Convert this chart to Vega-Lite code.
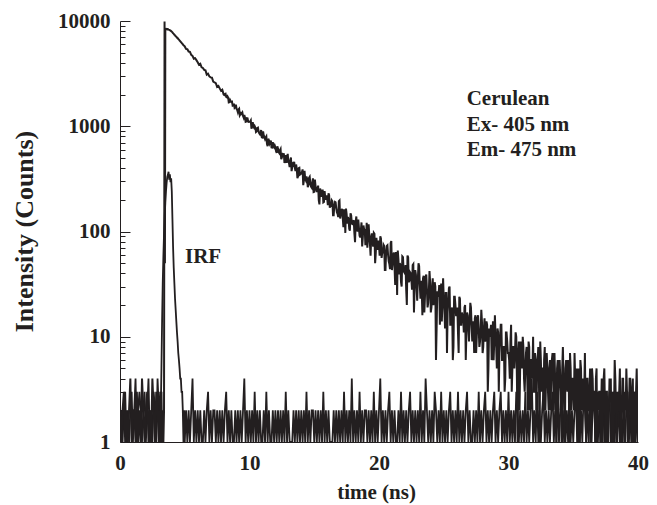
{
"$schema":"https://vega.github.io/schema/vega-lite/v6.json",
"width":518,"height":421,
"autosize":{"type":"none"},
"padding":{"left":120,"top":21,"right":19,"bottom":63},
"background":"white",
"config":{"view":{"stroke":null},"font":"Liberation Serif","axis":{"grid":false}},
"datasets":{
"decay":[{"t":0.0,"c":2},{"t":0.1,"c":1},{"t":0.2,"c":2},{"t":0.3,"c":3},{"t":0.4,"c":1},{"t":0.5,"c":2},{"t":0.6,"c":1},{"t":0.7,"c":2},{"t":0.8,"c":4},{"t":0.9,"c":1},{"t":1.0,"c":2},{"t":1.1,"c":2},{"t":1.2,"c":1},{"t":1.3,"c":3},{"t":1.4,"c":1},{"t":1.5,"c":2},{"t":1.6,"c":1},{"t":1.7,"c":4},{"t":1.8,"c":2},{"t":1.9,"c":1},{"t":2.0,"c":2},{"t":2.1,"c":3},{"t":2.2,"c":1},{"t":2.3,"c":2},{"t":2.4,"c":1},{"t":2.5,"c":4},{"t":2.6,"c":2},{"t":2.7,"c":1},{"t":2.8,"c":3},{"t":2.9,"c":2},{"t":3.0,"c":1},{"t":3.05,"c":2},{"t":3.1,"c":1},{"t":3.15,"c":2},{"t":3.2,"c":3},{"t":3.25,"c":1},{"t":3.3,"c":2},{"t":3.35,"c":1},{"t":3.4,"c":2},{"t":3.44,"c":9900},{"t":3.47,"c":50},{"t":3.5,"c":8450},{"t":3.55,"c":8380},{"t":3.6,"c":8420},{"t":3.65,"c":8330},{"t":3.7,"c":8360},{"t":3.75,"c":8290},{"t":3.8,"c":8240},{"t":3.85,"c":8180},{"t":3.9,"c":8090},{"t":3.95,"c":8010},{"t":4.0,"c":7920},{"t":4.05,"c":7790},{"t":4.1,"c":7640},{"t":4.15,"c":7550},{"t":4.2,"c":7400},{"t":4.25,"c":7310},{"t":4.3,"c":7170},{"t":4.35,"c":7090},{"t":4.4,"c":6950},{"t":4.45,"c":6890},{"t":4.5,"c":6740},{"t":4.55,"c":6660},{"t":4.6,"c":6510},{"t":4.65,"c":6440},{"t":4.7,"c":6300},{"t":4.75,"c":6230},{"t":4.8,"c":6090},{"t":4.85,"c":6020},{"t":4.9,"c":5880},{"t":4.95,"c":5820},
{"t":5.0,"c":5733},{"t":5.1,"c":5431},{"t":5.2,"c":5394},{"t":5.3,"c":5129},{"t":5.4,"c":5092},{"t":5.5,"c":4758},{"t":5.6,"c":4667},{"t":5.7,"c":4384},{"t":5.8,"c":4428},{"t":5.9,"c":4249},
{"t":6.0,"c":4057},{"t":6.1,"c":3846},{"t":6.2,"c":3926},{"t":6.3,"c":3635},{"t":6.4,"c":3578},{"t":6.5,"c":3430},{"t":6.6,"c":3397},{"t":6.7,"c":3092},{"t":6.8,"c":3154},{"t":6.9,"c":2974},
{"t":7.0,"c":2912},{"t":7.1,"c":2894},{"t":7.2,"c":2659},{"t":7.3,"c":2606},{"t":7.4,"c":2569},{"t":7.5,"c":2370},{"t":7.6,"c":2417},{"t":7.7,"c":2289},{"t":7.8,"c":2175},{"t":7.9,"c":2227},
{"t":8.0,"c":2008},{"t":8.1,"c":2025},{"t":8.2,"c":1901},{"t":8.3,"c":1930},{"t":8.4,"c":1684},{"t":8.5,"c":1776},{"t":8.6,"c":1702},{"t":8.7,"c":1567},{"t":8.8,"c":1644},{"t":8.9,"c":1515},
{"t":9.0,"c":1464},{"t":9.1,"c":1361},{"t":9.2,"c":1466},{"t":9.3,"c":1300},{"t":9.4,"c":1311},{"t":9.5,"c":1253},{"t":9.6,"c":1277},{"t":9.7,"c":1103},{"t":9.8,"c":1193},{"t":9.9,"c":1104},
{"t":10.0,"c":1101},{"t":10.1,"c":1136},{"t":10.2,"c":989},{"t":10.3,"c":990},{"t":10.4,"c":1005},{"t":10.5,"c":882},{"t":10.6,"c":962},{"t":10.7,"c":896},{"t":10.8,"c":839},{"t":10.9,"c":921},
{"t":11.0,"c":780},{"t":11.1,"c":819},{"t":11.2,"c":755},{"t":11.3,"c":801},{"t":11.4,"c":647},{"t":11.5,"c":737},{"t":11.6,"c":706},{"t":11.7,"c":629},{"t":11.8,"c":705},{"t":11.9,"c":631},
{"t":12.0,"c":630},{"t":12.1,"c":558},{"t":12.2,"c":615},{"t":12.3,"c":555},{"t":12.4,"c":607},{"t":12.5,"c":506},{"t":12.6,"c":526},{"t":12.7,"c":447},{"t":12.8,"c":531},{"t":12.9,"c":501},
{"t":13.0,"c":461},{"t":13.1,"c":409},{"t":13.2,"c":505},{"t":13.3,"c":408},{"t":13.4,"c":429},{"t":13.5,"c":403},{"t":13.6,"c":433},{"t":13.7,"c":321},{"t":13.8,"c":399},{"t":13.9,"c":347},
{"t":14.0,"c":358},{"t":14.1,"c":389},{"t":14.2,"c":306},{"t":14.3,"c":316},{"t":14.4,"c":333},{"t":14.5,"c":264},{"t":14.6,"c":323},{"t":14.7,"c":289},{"t":14.8,"c":261},{"t":14.9,"c":320},
{"t":15.0,"c":238},{"t":15.1,"c":270},{"t":15.2,"c":237},{"t":15.3,"c":273},{"t":15.4,"c":181},{"t":15.5,"c":244},{"t":15.6,"c":230},{"t":15.7,"c":189},{"t":15.8,"c":242},{"t":15.9,"c":201},
{"t":16.0,"c":205},{"t":16.1,"c":231},{"t":16.2,"c":168},{"t":16.3,"c":178},{"t":16.4,"c":194},{"t":16.5,"c":143},{"t":16.6,"c":191},{"t":16.7,"c":166},{"t":16.8,"c":147},{"t":16.9,"c":194},
{"t":17.0,"c":133},{"t":17.1,"c":159},{"t":17.2,"c":135},{"t":17.3,"c":163},{"t":17.4,"c":97},{"t":17.5,"c":146},{"t":17.6,"c":137},{"t":17.7,"c":106},{"t":17.8,"c":149},{"t":17.9,"c":119},
{"t":18.0,"c":124},{"t":18.1,"c":96},{"t":18.2,"c":125},{"t":18.3,"c":104},{"t":18.4,"c":130},{"t":18.5,"c":91},{"t":18.6,"c":103},{"t":18.7,"c":72},{"t":18.8,"c":114},{"t":18.9,"c":104},
{"t":19.0,"c":89},{"t":19.1,"c":70},{"t":19.2,"c":117},{"t":19.3,"c":76},{"t":19.4,"c":89},{"t":19.5,"c":80},{"t":19.6,"c":97},{"t":19.7,"c":50},{"t":19.8,"c":87},{"t":19.9,"c":67},
{"t":20.0,"c":74},{"t":20.1,"c":90},{"t":20.2,"c":56},{"t":20.3,"c":63},{"t":20.4,"c":73},{"t":20.5,"c":43},{"t":20.6,"c":73},{"t":20.7,"c":60},{"t":20.8,"c":49},{"t":20.9,"c":78},
{"t":21.0,"c":43},{"t":21.1,"c":60},{"t":21.2,"c":46},{"t":21.3,"c":64},{"t":21.4,"c":25},{"t":21.5,"c":54},{"t":21.6,"c":50},{"t":21.7,"c":33},{"t":21.8,"c":58},{"t":21.9,"c":42},
{"t":22.0,"c":40},{"t":22.1,"c":28},{"t":22.2,"c":59},{"t":22.3,"c":33},{"t":22.4,"c":41},{"t":22.5,"c":35},{"t":22.6,"c":48},{"t":22.7,"c":17},{"t":22.8,"c":43},{"t":22.9,"c":30},
{"t":23.0,"c":35},{"t":23.1,"c":47},{"t":23.2,"c":23},{"t":23.3,"c":28},{"t":23.4,"c":36},{"t":23.5,"c":17},{"t":23.6,"c":37},{"t":23.7,"c":28},{"t":23.8,"c":21},{"t":23.9,"c":42},
{"t":24.0,"c":17},{"t":24.1,"c":29},{"t":24.2,"c":20},{"t":24.3,"c":33},{"t":24.4,"c":6},{"t":24.5,"c":27},{"t":24.6,"c":25},{"t":24.7,"c":13},{"t":24.8,"c":32},{"t":24.9,"c":21},
{"t":25.0,"c":23},{"t":25.1,"c":12},{"t":25.2,"c":26},{"t":25.3,"c":17},{"t":25.4,"c":29},{"t":25.5,"c":13},{"t":25.6,"c":18},{"t":25.7,"c":6},{"t":25.8,"c":24},{"t":25.9,"c":20},
{"t":26.0,"c":16},{"t":26.1,"c":11},{"t":26.2,"c":24},{"t":26.3,"c":13},{"t":26.4,"c":17},{"t":26.5,"c":15},{"t":26.6,"c":19},{"t":26.7,"c":6},{"t":26.8,"c":17},{"t":26.9,"c":12},
{"t":27.0,"c":14},{"t":27.1,"c":19},{"t":27.2,"c":9},{"t":27.3,"c":12},{"t":27.4,"c":15},{"t":27.5,"c":7},{"t":27.6,"c":15},{"t":27.7,"c":12},{"t":27.8,"c":9},{"t":27.9,"c":18},
{"t":28.0,"c":7},{"t":28.1,"c":12},{"t":28.2,"c":9},{"t":28.3,"c":14},{"t":28.4,"c":3},{"t":28.5,"c":12},{"t":28.6,"c":11},{"t":28.7,"c":6},{"t":28.8,"c":14},{"t":28.9,"c":9},
{"t":29.0,"c":10},{"t":29.1,"c":5},{"t":29.2,"c":11},{"t":29.3,"c":7},{"t":29.4,"c":13},{"t":29.5,"c":6},{"t":29.6,"c":8},{"t":29.7,"c":3},{"t":29.8,"c":11},{"t":29.9,"c":9},
{"t":30.0,"c":7},{"t":30.1,"c":4},{"t":30.2,"c":13},{"t":30.3,"c":5},{"t":30.4,"c":8},{"t":30.5,"c":7},{"t":30.6,"c":10},{"t":30.7,"c":1},{"t":30.8,"c":9},{"t":30.9,"c":5},
{"t":31.0,"c":7},{"t":31.1,"c":10},{"t":31.2,"c":4},{"t":31.3,"c":5},{"t":31.4,"c":8},{"t":31.5,"c":2},{"t":31.6,"c":8},{"t":31.7,"c":6},{"t":31.8,"c":4},{"t":31.9,"c":10},
{"t":32.0,"c":3},{"t":32.1,"c":6},{"t":32.2,"c":4},{"t":32.3,"c":8},{"t":32.4,"c":1},{"t":32.5,"c":6},{"t":32.6,"c":5},{"t":32.7,"c":2},{"t":32.8,"c":8},{"t":32.9,"c":4},
{"t":33.0,"c":5},{"t":33.1,"c":2},{"t":33.2,"c":6},{"t":33.3,"c":4},{"t":33.4,"c":7},{"t":33.5,"c":2},{"t":33.6,"c":4},{"t":33.7,"c":1},{"t":33.8,"c":6},{"t":33.9,"c":5},
{"t":34.0,"c":4},{"t":34.1,"c":1},{"t":34.2,"c":8},{"t":34.3,"c":2},{"t":34.4,"c":5},{"t":34.5,"c":4},{"t":34.6,"c":6},{"t":34.7,"c":1},{"t":34.8,"c":5},{"t":34.9,"c":3},
{"t":35.0,"c":4},{"t":35.1,"c":7},{"t":35.2,"c":2},{"t":35.3,"c":3},{"t":35.4,"c":5},{"t":35.5,"c":1},{"t":35.6,"c":5},{"t":35.7,"c":3},{"t":35.8,"c":2},{"t":35.9,"c":7},
{"t":36.0,"c":1},{"t":36.1,"c":4},{"t":36.2,"c":2},{"t":36.3,"c":5},{"t":36.4,"c":1},{"t":36.5,"c":4},{"t":36.6,"c":3},{"t":36.7,"c":1},{"t":36.8,"c":5},{"t":36.9,"c":3},
{"t":37.0,"c":3},{"t":37.1,"c":1},{"t":37.2,"c":4},{"t":37.3,"c":2},{"t":37.4,"c":5},{"t":37.5,"c":1},{"t":37.6,"c":3},{"t":37.7,"c":1},{"t":37.8,"c":4},{"t":37.9,"c":4},
{"t":38.0,"c":2},{"t":38.1,"c":1},{"t":38.2,"c":6},{"t":38.3,"c":2},{"t":38.4,"c":3},{"t":38.5,"c":2},{"t":38.6,"c":5},{"t":38.7,"c":1},{"t":38.8,"c":4},{"t":38.9,"c":2},
{"t":39.0,"c":3},{"t":39.1,"c":5},{"t":39.2,"c":1},{"t":39.3,"c":2},{"t":39.4,"c":4},{"t":39.5,"c":1},{"t":39.6,"c":4},{"t":39.7,"c":3},{"t":39.8,"c":1},{"t":39.9,"c":5},{"t":40.0,"c":1},
{"t":8.05,"c":1984},{"t":8.15,"c":2039},{"t":8.25,"c":1884},{"t":8.35,"c":1878},{"t":8.45,"c":1690},{"t":8.55,"c":1727},{"t":8.65,"c":1713},{"t":8.75,"c":1575},{"t":8.85,"c":1494},{"t":8.95,"c":1601},
{"t":9.05,"c":1431},{"t":9.15,"c":1441},{"t":9.25,"c":1270},{"t":9.35,"c":1334},{"t":9.45,"c":1345},{"t":9.55,"c":1206},{"t":9.65,"c":1210},{"t":9.75,"c":1110},{"t":9.85,"c":1189},{"t":9.95,"c":1100},
{"t":10.05,"c":1108},{"t":10.15,"c":951},{"t":10.25,"c":1095},{"t":10.35,"c":968},{"t":10.45,"c":974},{"t":10.55,"c":894},{"t":10.65,"c":970},{"t":10.75,"c":855},{"t":10.85,"c":883},{"t":10.95,"c":784},
{"t":11.05,"c":892},{"t":11.15,"c":785},{"t":11.25,"c":782},{"t":11.35,"c":679},{"t":11.45,"c":761},{"t":11.55,"c":683},{"t":11.65,"c":731},{"t":11.75,"c":627},{"t":11.85,"c":647},{"t":11.95,"c":656},
{"t":12.05,"c":578},{"t":12.15,"c":645},{"t":12.25,"c":567},{"t":12.35,"c":590},{"t":12.45,"c":486},{"t":12.55,"c":537},{"t":12.65,"c":553},{"t":12.75,"c":482},{"t":12.85,"c":448},{"t":12.95,"c":546},
{"t":13.05,"c":447},{"t":13.15,"c":477},{"t":13.25,"c":375},{"t":13.35,"c":438},{"t":13.45,"c":460},{"t":13.55,"c":376},{"t":13.65,"c":391},{"t":13.75,"c":334},{"t":13.85,"c":402},{"t":13.95,"c":351},
{"t":14.05,"c":367},{"t":14.15,"c":276},{"t":14.25,"c":377},{"t":14.35,"c":306},{"t":14.45,"c":318},{"t":14.55,"c":275},{"t":14.65,"c":331},{"t":14.75,"c":267},{"t":14.85,"c":292},{"t":14.95,"c":237},
{"t":15.05,"c":312},{"t":15.15,"c":252},{"t":15.25,"c":256},{"t":15.35,"c":198},{"t":15.45,"c":256},{"t":15.55,"c":213},{"t":15.65,"c":250},{"t":15.75,"c":191},{"t":15.85,"c":209},{"t":15.95,"c":220},
{"t":16.05,"c":178},{"t":16.15,"c":221},{"t":16.25,"c":180},{"t":16.35,"c":198},{"t":16.45,"c":143},{"t":16.55,"c":177},{"t":16.65,"c":189},{"t":16.75,"c":152},{"t":16.85,"c":137},{"t":16.95,"c":197},
{"t":17.05,"c":145},{"t":17.15,"c":164},{"t":17.25,"c":110},{"t":17.35,"c":149},{"t":17.45,"c":165},{"t":17.55,"c":119},{"t":17.65,"c":131},{"t":17.75,"c":102},{"t":17.85,"c":143},{"t":17.95,"c":118},
{"t":18.05,"c":128},{"t":18.15,"c":79},{"t":18.25,"c":139},{"t":18.35,"c":100},{"t":18.45,"c":109},{"t":18.55,"c":88},{"t":18.65,"c":122},{"t":18.75,"c":88},{"t":18.85,"c":105},{"t":18.95,"c":74},
{"t":19.05,"c":121},{"t":19.15,"c":88},{"t":19.25,"c":92},{"t":19.35,"c":59},{"t":19.45,"c":96},{"t":19.55,"c":72},{"t":19.65,"c":95},{"t":19.75,"c":62},{"t":19.85,"c":74},{"t":19.95,"c":82},
{"t":20.05,"c":59},{"t":20.15,"c":86},{"t":20.25,"c":63},{"t":20.35,"c":75},{"t":20.45,"c":43},{"t":20.55,"c":64},{"t":20.65,"c":74},{"t":20.75,"c":52},{"t":20.85,"c":44},{"t":20.95,"c":81},
{"t":21.05,"c":50},{"t":21.15,"c":63},{"t":21.25,"c":31},{"t":21.35,"c":56},{"t":21.45,"c":66},{"t":21.55,"c":39},{"t":21.65,"c":48},{"t":21.75,"c":30},{"t":21.85,"c":57},{"t":21.95,"c":41},
{"t":22.05,"c":48},{"t":22.15,"c":20},{"t":22.25,"c":57},{"t":22.35,"c":34},{"t":22.45,"c":40},{"t":22.55,"c":28},{"t":22.65,"c":49},{"t":22.75,"c":29},{"t":22.85,"c":39},{"t":22.95,"c":22},
{"t":23.05,"c":50},{"t":23.15,"c":31},{"t":23.25,"c":34},{"t":23.35,"c":16},{"t":23.45,"c":38},{"t":23.55,"c":24},{"t":23.65,"c":39},{"t":23.75,"c":19},{"t":23.85,"c":27},{"t":23.95,"c":33},
{"t":24.05,"c":19},{"t":24.15,"c":36},{"t":24.25,"c":23},{"t":24.35,"c":30},{"t":24.45,"c":12},{"t":24.55,"c":24},{"t":24.65,"c":31},{"t":24.75,"c":18},{"t":24.85,"c":14},{"t":24.95,"c":36},
{"t":25.05,"c":18},{"t":25.15,"c":26},{"t":25.25,"c":7},{"t":25.35,"c":22},{"t":25.45,"c":30},{"t":25.55,"c":13},{"t":25.65,"c":19},{"t":25.75,"c":8},{"t":25.85,"c":24},{"t":25.95,"c":16},
{"t":26.05,"c":19},{"t":26.15,"c":7},{"t":26.25,"c":23},{"t":26.35,"c":13},{"t":26.45,"c":16},{"t":26.55,"c":11},{"t":26.65,"c":20},{"t":26.75,"c":11},{"t":26.85,"c":16},{"t":26.95,"c":9},
{"t":27.05,"c":21},{"t":27.15,"c":13},{"t":27.25,"c":14},{"t":27.35,"c":7},{"t":27.45,"c":16},{"t":27.55,"c":10},{"t":27.65,"c":16},{"t":27.75,"c":8},{"t":27.85,"c":11},{"t":27.95,"c":14},
{"t":28.05,"c":8},{"t":28.15,"c":15},{"t":28.25,"c":10},{"t":28.35,"c":13},{"t":28.45,"c":5},{"t":28.55,"c":10},{"t":28.65,"c":13},{"t":28.75,"c":8},{"t":28.85,"c":6},{"t":28.95,"c":16},
{"t":29.05,"c":8},{"t":29.15,"c":12},{"t":29.25,"c":3},{"t":29.35,"c":10},{"t":29.45,"c":13},{"t":29.55,"c":6},{"t":29.65,"c":8},{"t":29.75,"c":4},{"t":29.85,"c":11},{"t":29.95,"c":7},
{"t":30.05,"c":6},{"t":30.15,"c":9},{"t":30.25,"c":3},{"t":30.35,"c":8},{"t":30.45,"c":5},{"t":30.55,"c":11},{"t":30.65,"c":4},{"t":30.75,"c":7},{"t":30.85,"c":2},{"t":30.95,"c":9},
{"t":31.05,"c":5},{"t":31.15,"c":8},{"t":31.25,"c":3},{"t":31.35,"c":7},{"t":31.45,"c":4},{"t":31.55,"c":9},{"t":31.65,"c":2},{"t":31.75,"c":6},{"t":31.85,"c":5},{"t":31.95,"c":3},
{"t":32.05,"c":7},{"t":32.15,"c":2},{"t":32.25,"c":6},{"t":32.35,"c":4},{"t":32.45,"c":9},{"t":32.55,"c":3},{"t":32.65,"c":5},{"t":32.75,"c":6},{"t":32.85,"c":2},{"t":32.95,"c":7},
{"t":33.05,"c":3},{"t":33.15,"c":5},{"t":33.25,"c":2},{"t":33.35,"c":6},{"t":33.45,"c":4},{"t":33.55,"c":7},{"t":33.65,"c":3},{"t":33.75,"c":5},{"t":33.85,"c":2},{"t":33.95,"c":6},
{"t":34.05,"c":3},{"t":34.15,"c":5},{"t":34.25,"c":4},{"t":34.35,"c":1},{"t":34.45,"c":6},{"t":34.55,"c":3},{"t":34.65,"c":4},{"t":34.75,"c":7},{"t":34.85,"c":2},{"t":34.95,"c":4},
{"t":35.05,"c":2},{"t":35.15,"c":4},{"t":35.25,"c":5},{"t":35.35,"c":1},{"t":35.45,"c":3},{"t":35.55,"c":6},{"t":35.65,"c":2},{"t":35.75,"c":4},{"t":35.85,"c":3},{"t":35.95,"c":2},
{"t":36.05,"c":4},{"t":36.15,"c":2},{"t":36.25,"c":3},{"t":36.35,"c":1},{"t":36.45,"c":5},{"t":36.55,"c":2},{"t":36.65,"c":3},{"t":36.75,"c":4},{"t":36.85,"c":1},{"t":36.95,"c":2},
{"t":37.05,"c":3},{"t":37.15,"c":2},{"t":37.25,"c":1},{"t":37.35,"c":4},{"t":37.45,"c":2},{"t":37.55,"c":3},{"t":37.65,"c":1},{"t":37.75,"c":2},{"t":37.85,"c":3},{"t":37.95,"c":1},
{"t":38.05,"c":3},{"t":38.15,"c":2},{"t":38.25,"c":4},{"t":38.35,"c":1},{"t":38.45,"c":2},{"t":38.55,"c":3},{"t":38.65,"c":1},{"t":38.75,"c":2},{"t":38.85,"c":4},{"t":38.95,"c":1},
{"t":39.05,"c":2},{"t":39.15,"c":3},{"t":39.25,"c":1},{"t":39.35,"c":4},{"t":39.45,"c":2},{"t":39.55,"c":3},{"t":39.65,"c":1},{"t":39.75,"c":2},{"t":39.85,"c":3},{"t":39.95,"c":2}],
"irf":[{"t":0.0,"c":1},{"t":0.1,"c":2},{"t":0.2,"c":1},{"t":0.3,"c":2},{"t":0.4,"c":3},{"t":0.5,"c":1},{"t":0.6,"c":2},{"t":0.7,"c":1},{"t":0.8,"c":2},{"t":0.9,"c":3},{"t":1.0,"c":1},{"t":1.1,"c":2},{"t":1.2,"c":4},{"t":1.3,"c":1},{"t":1.4,"c":2},{"t":1.5,"c":3},{"t":1.6,"c":2},{"t":1.7,"c":1},{"t":1.8,"c":2},{"t":1.9,"c":3},{"t":2.0,"c":1},{"t":2.1,"c":2},{"t":2.2,"c":4},{"t":2.3,"c":1},{"t":2.4,"c":2},{"t":2.5,"c":1},{"t":2.6,"c":3},{"t":2.7,"c":2},{"t":2.8,"c":1},{"t":2.9,"c":4},{"t":3.0,"c":2},
{"t":3.05,"c":1},{"t":3.1,"c":3},{"t":3.15,"c":2},{"t":3.2,"c":5},{"t":3.25,"c":14},{"t":3.3,"c":32},{"t":3.35,"c":58},{"t":3.4,"c":95},{"t":3.45,"c":140},{"t":3.5,"c":190},{"t":3.55,"c":240},{"t":3.6,"c":290},{"t":3.65,"c":330},{"t":3.7,"c":345},{"t":3.75,"c":370},{"t":3.8,"c":310},{"t":3.85,"c":350},{"t":3.9,"c":295},{"t":3.95,"c":320},{"t":4.0,"c":240},{"t":4.05,"c":130},{"t":4.1,"c":70},{"t":4.15,"c":45},{"t":4.2,"c":32},{"t":4.25,"c":23},{"t":4.3,"c":18},{"t":4.35,"c":14},{"t":4.4,"c":11},{"t":4.45,"c":9},{"t":4.5,"c":7},{"t":4.55,"c":6},{"t":4.6,"c":5},{"t":4.65,"c":4},{"t":4.7,"c":4},{"t":4.75,"c":3},{"t":4.8,"c":3},{"t":4.85,"c":2},{"t":4.9,"c":1},{"t":4.95,"c":2},{"t":5.0,"c":1},
{"t":5.1,"c":2},{"t":5.2,"c":1},{"t":5.3,"c":2},{"t":5.4,"c":1},{"t":5.5,"c":2},{"t":5.6,"c":4},{"t":5.7,"c":1},{"t":5.8,"c":2},{"t":5.9,"c":1},
{"t":6.0,"c":2},{"t":6.1,"c":1},{"t":6.2,"c":2},{"t":6.3,"c":1},{"t":6.4,"c":1},{"t":6.5,"c":2},{"t":6.6,"c":1},{"t":6.7,"c":2},{"t":6.8,"c":3},{"t":6.9,"c":1},
{"t":7.0,"c":2},{"t":7.1,"c":1},{"t":7.2,"c":2},{"t":7.3,"c":2},{"t":7.4,"c":1},{"t":7.5,"c":2},{"t":7.6,"c":1},{"t":7.7,"c":2},{"t":7.8,"c":1},{"t":7.9,"c":2},
{"t":8.0,"c":1},{"t":8.1,"c":2},{"t":8.2,"c":3},{"t":8.3,"c":1},{"t":8.4,"c":2},{"t":8.5,"c":1},{"t":8.6,"c":2},{"t":8.7,"c":1},{"t":8.8,"c":1},{"t":8.9,"c":2},
{"t":9.0,"c":1},{"t":9.1,"c":2},{"t":9.2,"c":1},{"t":9.3,"c":2},{"t":9.4,"c":1},{"t":9.5,"c":2},{"t":9.6,"c":4},{"t":9.7,"c":1},{"t":9.8,"c":2},{"t":9.9,"c":1},
{"t":10.0,"c":2},{"t":10.1,"c":1},{"t":10.2,"c":2},{"t":10.3,"c":1},{"t":10.4,"c":3},{"t":10.5,"c":1},{"t":10.6,"c":2},{"t":10.7,"c":1},{"t":10.8,"c":2},{"t":10.9,"c":1},
{"t":11.0,"c":1},{"t":11.1,"c":2},{"t":11.2,"c":1},{"t":11.3,"c":3},{"t":11.4,"c":1},{"t":11.5,"c":2},{"t":11.6,"c":1},{"t":11.7,"c":1},{"t":11.8,"c":2},{"t":11.9,"c":1},
{"t":12.0,"c":2},{"t":12.1,"c":1},{"t":12.2,"c":2},{"t":12.3,"c":1},{"t":12.4,"c":2},{"t":12.5,"c":1},{"t":12.6,"c":2},{"t":12.7,"c":1},{"t":12.8,"c":3},{"t":12.9,"c":1},
{"t":13.0,"c":2},{"t":13.1,"c":1},{"t":13.2,"c":1},{"t":13.3,"c":1},{"t":13.4,"c":2},{"t":13.5,"c":1},{"t":13.6,"c":2},{"t":13.7,"c":1},{"t":13.8,"c":2},{"t":13.9,"c":1},
{"t":14.0,"c":2},{"t":14.1,"c":1},{"t":14.2,"c":2},{"t":14.3,"c":1},{"t":14.4,"c":3},{"t":14.5,"c":1},{"t":14.6,"c":2},{"t":14.7,"c":1},{"t":14.8,"c":2},{"t":14.9,"c":2},
{"t":15.0,"c":1},{"t":15.1,"c":2},{"t":15.2,"c":1},{"t":15.3,"c":2},{"t":15.4,"c":1},{"t":15.5,"c":2},{"t":15.6,"c":1},{"t":15.7,"c":3},{"t":15.8,"c":1},{"t":15.9,"c":2},
{"t":16.0,"c":1},{"t":16.1,"c":2},{"t":16.2,"c":1},{"t":16.3,"c":1},{"t":16.4,"c":1},{"t":16.5,"c":2},{"t":16.6,"c":1},{"t":16.7,"c":2},{"t":16.8,"c":1},{"t":16.9,"c":2},
{"t":17.0,"c":1},{"t":17.1,"c":2},{"t":17.2,"c":1},{"t":17.3,"c":3},{"t":17.4,"c":1},{"t":17.5,"c":2},{"t":17.6,"c":1},{"t":17.7,"c":2},{"t":17.8,"c":1},{"t":17.9,"c":4},
{"t":18.0,"c":1},{"t":18.1,"c":2},{"t":18.2,"c":1},{"t":18.3,"c":2},{"t":18.4,"c":1},{"t":18.5,"c":3},{"t":18.6,"c":1},{"t":18.7,"c":2},{"t":18.8,"c":1},{"t":18.9,"c":2},
{"t":19.0,"c":2},{"t":19.1,"c":1},{"t":19.2,"c":2},{"t":19.3,"c":1},{"t":19.4,"c":2},{"t":19.5,"c":1},{"t":19.6,"c":3},{"t":19.7,"c":1},{"t":19.8,"c":2},{"t":19.9,"c":1},
{"t":20.0,"c":2},{"t":20.1,"c":4},{"t":20.2,"c":1},{"t":20.3,"c":2},{"t":20.4,"c":1},{"t":20.5,"c":2},{"t":20.6,"c":1},{"t":20.7,"c":2},{"t":20.8,"c":3},{"t":20.9,"c":1},
{"t":21.0,"c":2},{"t":21.1,"c":1},{"t":21.2,"c":2},{"t":21.3,"c":1},{"t":21.4,"c":1},{"t":21.5,"c":2},{"t":21.6,"c":1},{"t":21.7,"c":3},{"t":21.8,"c":1},{"t":21.9,"c":2},
{"t":22.0,"c":1},{"t":22.1,"c":2},{"t":22.2,"c":1},{"t":22.3,"c":2},{"t":22.4,"c":3},{"t":22.5,"c":1},{"t":22.6,"c":2},{"t":22.7,"c":1},{"t":22.8,"c":2},{"t":22.9,"c":1},
{"t":23.0,"c":2},{"t":23.1,"c":1},{"t":23.2,"c":3},{"t":23.3,"c":1},{"t":23.4,"c":2},{"t":23.5,"c":1},{"t":23.6,"c":4},{"t":23.7,"c":2},{"t":23.8,"c":1},{"t":23.9,"c":2},
{"t":24.0,"c":1},{"t":24.1,"c":2},{"t":24.2,"c":1},{"t":24.3,"c":3},{"t":24.4,"c":2},{"t":24.5,"c":1},{"t":24.6,"c":2},{"t":24.7,"c":1},{"t":24.8,"c":3},{"t":24.9,"c":1},
{"t":25.0,"c":2},{"t":25.1,"c":1},{"t":25.2,"c":2},{"t":25.3,"c":1},{"t":25.4,"c":2},{"t":25.5,"c":3},{"t":25.6,"c":1},{"t":25.7,"c":2},{"t":25.8,"c":1},{"t":25.9,"c":2},
{"t":26.0,"c":1},{"t":26.1,"c":3},{"t":26.2,"c":1},{"t":26.3,"c":2},{"t":26.4,"c":1},{"t":26.5,"c":2},{"t":26.6,"c":1},{"t":26.7,"c":2},{"t":26.8,"c":3},{"t":26.9,"c":1},
{"t":27.0,"c":2},{"t":27.1,"c":1},{"t":27.2,"c":1},{"t":27.3,"c":2},{"t":27.4,"c":1},{"t":27.5,"c":2},{"t":27.6,"c":1},{"t":27.7,"c":3},{"t":27.8,"c":1},{"t":27.9,"c":2},
{"t":28.0,"c":1},{"t":28.1,"c":2},{"t":28.2,"c":3},{"t":28.3,"c":1},{"t":28.4,"c":2},{"t":28.5,"c":1},{"t":28.6,"c":2},{"t":28.7,"c":1},{"t":28.8,"c":2},{"t":28.9,"c":3},
{"t":29.0,"c":1},{"t":29.1,"c":2},{"t":29.2,"c":1},{"t":29.3,"c":2},{"t":29.4,"c":3},{"t":29.5,"c":1},{"t":29.6,"c":2},{"t":29.7,"c":1},{"t":29.8,"c":2},{"t":29.9,"c":1},
{"t":30.0,"c":3},{"t":30.1,"c":1},{"t":30.2,"c":2},{"t":30.3,"c":1},{"t":30.4,"c":2},{"t":30.5,"c":1},{"t":30.6,"c":3},{"t":30.7,"c":2},{"t":30.8,"c":1},{"t":30.9,"c":2},
{"t":31.0,"c":1},{"t":31.1,"c":2},{"t":31.2,"c":1},{"t":31.3,"c":3},{"t":31.4,"c":1},{"t":31.5,"c":2},{"t":31.6,"c":1},{"t":31.7,"c":2},{"t":31.8,"c":4},{"t":31.9,"c":1},
{"t":32.0,"c":2},{"t":32.1,"c":1},{"t":32.2,"c":3},{"t":32.3,"c":1},{"t":32.4,"c":2},{"t":32.5,"c":1},{"t":32.6,"c":2},{"t":32.7,"c":3},{"t":32.8,"c":1},{"t":32.9,"c":2},
{"t":33.0,"c":1},{"t":33.1,"c":2},{"t":33.2,"c":1},{"t":33.3,"c":2},{"t":33.4,"c":3},{"t":33.5,"c":1},{"t":33.6,"c":2},{"t":33.7,"c":1},{"t":33.8,"c":3},{"t":33.9,"c":1},
{"t":34.0,"c":2},{"t":34.1,"c":3},{"t":34.2,"c":1},{"t":34.3,"c":2},{"t":34.4,"c":1},{"t":34.5,"c":2},{"t":34.6,"c":1},{"t":34.7,"c":3},{"t":34.8,"c":1},{"t":34.9,"c":2},
{"t":35.0,"c":1},{"t":35.1,"c":2},{"t":35.2,"c":3},{"t":35.3,"c":1},{"t":35.4,"c":2},{"t":35.5,"c":1},{"t":35.6,"c":2},{"t":35.7,"c":1},{"t":35.8,"c":3},{"t":35.9,"c":2},
{"t":36.0,"c":1},{"t":36.1,"c":2},{"t":36.2,"c":1},{"t":36.3,"c":3},{"t":36.4,"c":1},{"t":36.5,"c":2},{"t":36.6,"c":3},{"t":36.7,"c":1},{"t":36.8,"c":2},{"t":36.9,"c":1},
{"t":37.0,"c":2},{"t":37.1,"c":1},{"t":37.2,"c":2},{"t":37.3,"c":3},{"t":37.4,"c":1},{"t":37.5,"c":2},{"t":37.6,"c":1},{"t":37.7,"c":2},{"t":37.8,"c":3},{"t":37.9,"c":1},
{"t":38.0,"c":2},{"t":38.1,"c":3},{"t":38.2,"c":1},{"t":38.3,"c":2},{"t":38.4,"c":1},{"t":38.5,"c":3},{"t":38.6,"c":1},{"t":38.7,"c":2},{"t":38.8,"c":1},{"t":38.9,"c":2},
{"t":39.0,"c":1},{"t":39.1,"c":2},{"t":39.2,"c":3},{"t":39.3,"c":1},{"t":39.4,"c":2},{"t":39.5,"c":1},{"t":39.6,"c":2},{"t":39.7,"c":3},{"t":39.8,"c":1},{"t":39.9,"c":2},{"t":40.0,"c":1}],
"notes":[{"t":26.77,"c":1582,"label":"Cerulean"},{"t":26.77,"c":897,"label":"Ex- 405 nm"},{"t":26.77,"c":520,"label":"Em- 475 nm"},{"t":5.02,"c":49.7,"label":"IRF"}]
},
"layer":[
{"data":{"name":"irf"},
 "mark":{"type":"line","color":"#231f20","strokeWidth":1.8,"clip":true},
 "encoding":{
  "x":{"field":"t","type":"quantitative","scale":{"domain":[0,40],"nice":false,"zero":false},
       "axis":{"values":[0,10,20,30,40],"ticks":false,"domainColor":"#231f20","domainWidth":1,"labelPadding":10,"labelFont":"Liberation Serif","labelFontWeight":"bold","labelFontSize":21,"labelColor":"#231f20","labelFlush":false,"labelOverlap":false,
               "title":"time (ns)","titleFont":"Liberation Serif","titleFontWeight":"bold","titleFontSize":21,"titleColor":"#231f20","titleX":256,"titleY":50,"titleAlign":"center","titleBaseline":"middle"}},
  "y":{"field":"c","type":"quantitative","scale":{"type":"log","domain":[1,10000],"nice":false},
       "axis":{"orient":"left","values":[2,3,4,5,6,7,8,9,20,30,40,50,60,70,80,90,200,300,400,500,600,700,800,900,2000,3000,4000,5000,6000,7000,8000,9000],"labels":false,"domain":false,"tickSize":-5,"tickColor":"#231f20","tickWidth":1,"title":null}}
 }},
{"data":{"name":"decay"},
 "mark":{"type":"line","color":"#231f20","strokeWidth":2,"clip":true},
 "encoding":{
  "x":{"field":"t","type":"quantitative"},
  "y":{"field":"c","type":"quantitative",
       "axis":{"orient":"left","values":[1,10,100,1000,10000],"format":"d","tickSize":-10,"tickColor":"#231f20","tickWidth":1,"domainColor":"#231f20","domainWidth":1,"labelPadding":20,"labelFont":"Liberation Serif","labelFontWeight":"bold","labelFontSize":21,"labelColor":"#231f20","labelFlush":false,"labelOverlap":false,"labelBaseline":"middle",
               "title":"Intensity (Counts)","titleFont":"Liberation Serif","titleFontWeight":"bold","titleFontSize":26,"titleColor":"#231f20","titleX":-96,"titleY":210,"titleAngle":-90,"titleAlign":"center","titleBaseline":"middle"}}
 }},
{"data":{"name":"notes"},
 "mark":{"type":"text","align":"left","baseline":"alphabetic","font":"Liberation Serif","fontWeight":"bold","fontSize":21,"color":"#231f20"},
 "encoding":{
  "x":{"field":"t","type":"quantitative"},
  "y":{"field":"c","type":"quantitative","axis":null},
  "text":{"field":"label"}
 }}
],
"resolve":{"axis":{"y":"independent"}}
}
